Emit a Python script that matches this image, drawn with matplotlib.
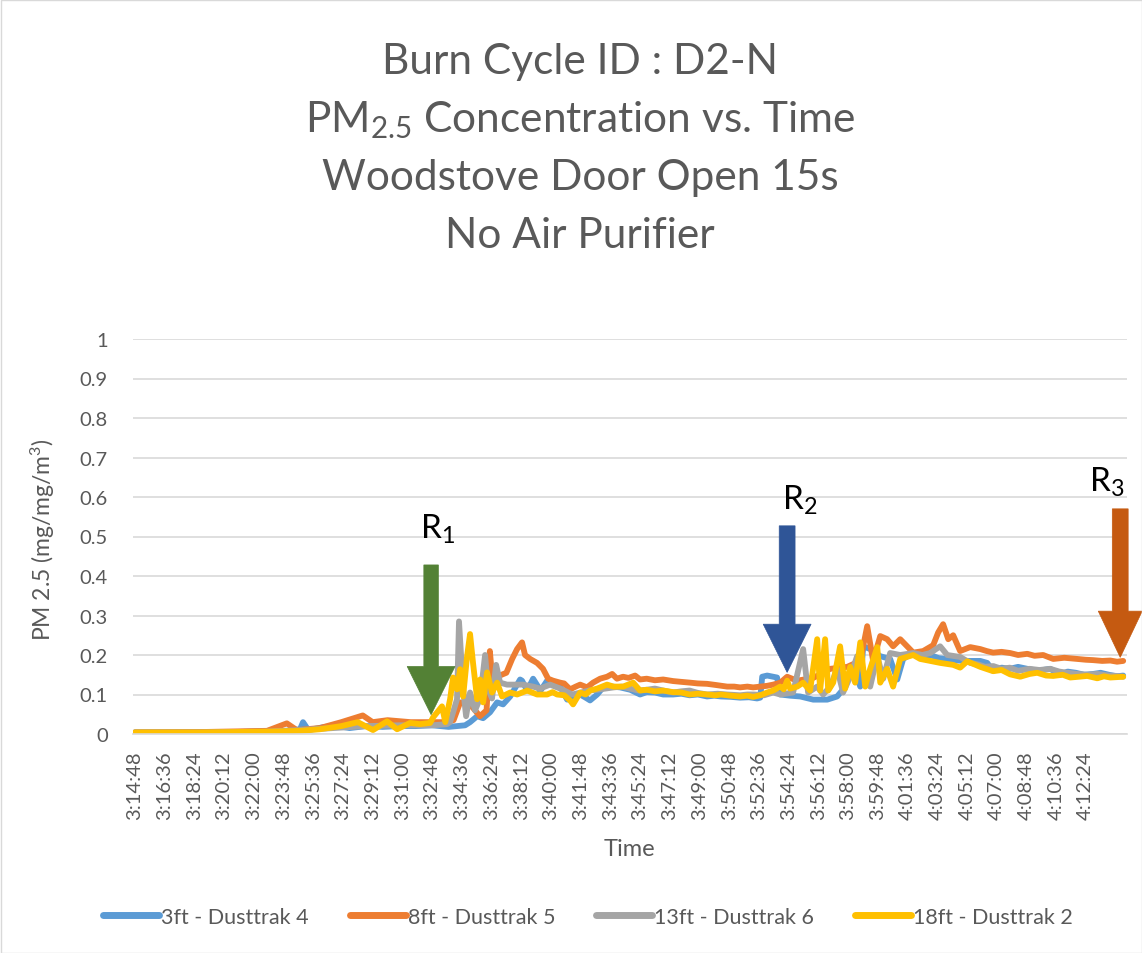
import matplotlib
matplotlib.use("Agg")
import matplotlib.pyplot as plt
from matplotlib.patches import Polygon, Rectangle

plt.rcParams['font.family'] = ['Lato', 'DejaVu Sans']
plt.rcParams['mathtext.fontset'] = 'custom'
plt.rcParams['mathtext.rm'] = 'Lato'
plt.rcParams['mathtext.it'] = 'Lato'
plt.rcParams['mathtext.default'] = 'regular'

# ---------------- data (minutes after 3:14:48, PM2.5 mg/m3) ----------------
t_blue = [0, 3, 6, 9.2, 10.0, 10.18, 10.5, 11.5, 12.3, 13, 14, 15, 16, 17, 18, 19, 20, 20.3,
          20.73, 21.09, 21.51, 21.94, 22.3, 22.73, 23.15, 23.33, 23.45, 23.76, 24.12, 24.42,
          24.54, 24.97, 25.33, 25.76, 26.18, 26.5, 26.97, 27.3, 27.57, 28.0, 28.36, 28.9,
          29.39, 30.0, 30.6, 31.0, 31.5, 32.0, 32.6, 33.1, 33.6, 34.1, 34.66, 35.1, 35.5,
          36.1, 36.66, 37.2, 37.69, 37.88, 38.0, 38.3, 38.66, 38.9, 39.09, 39.69, 40.3,
          41.09, 41.94, 42.54, 42.9, 43.21, 43.51, 43.94, 44.12, 44.54, 45.15, 45.75, 46.18,
          46.54, 47.15, 47.7, 48.18, 48.7, 49.21, 49.8, 50.42, 51.21, 51.63, 51.99, 52.5,
          53.0, 53.5, 54.06, 54.7, 55.45, 56.06, 56.5, 57.0, 57.5, 58.05, 58.5, 59.0, 59.5,
          59.87]
pm_blue = [0.004, 0.004, 0.005, 0.008, 0.012, 0.03, 0.01, 0.018, 0.02, 0.015, 0.02, 0.018,
           0.02, 0.02, 0.022, 0.018, 0.022, 0.03, 0.045, 0.04, 0.055, 0.08, 0.075, 0.095,
           0.125, 0.138, 0.135, 0.11, 0.14, 0.12, 0.108, 0.135, 0.133, 0.12, 0.087, 0.095,
           0.1, 0.092, 0.085, 0.1, 0.118, 0.12, 0.118, 0.112, 0.1, 0.106, 0.105, 0.1, 0.1,
           0.102, 0.098, 0.1, 0.095, 0.097, 0.095, 0.094, 0.092, 0.093, 0.09, 0.092, 0.145,
           0.148, 0.145, 0.143, 0.1, 0.097, 0.095, 0.087, 0.087, 0.095, 0.113, 0.146, 0.17,
           0.12, 0.222, 0.215, 0.197, 0.19, 0.138, 0.19, 0.206, 0.198, 0.2, 0.192, 0.19,
           0.186, 0.185, 0.185, 0.18, 0.16, 0.168, 0.165, 0.17, 0.165, 0.16, 0.165, 0.15,
           0.158, 0.155, 0.15, 0.152, 0.155, 0.15, 0.146, 0.148]

t_orange = [0, 4, 8, 9.2, 9.8, 11.2, 12.5, 13.8, 14.4, 15.3, 16.7, 17.9, 18.6, 19.3, 19.7,
            20.3, 20.9, 21.3, 21.5, 21.7, 22.1, 22.5, 22.85, 23.15, 23.45, 23.63, 23.94,
            24.36, 24.72, 25.03, 25.33, 25.76, 26.0, 26.36, 26.7, 26.97, 27.39, 27.75, 28.18,
            28.6, 28.91, 29.2, 29.57, 29.9, 30.3, 30.6, 31.0, 31.5, 32.0, 32.6, 33.1, 33.63,
            34.1, 34.66, 35.2, 35.88, 36.3, 36.66, 37.1, 37.45, 37.9, 38.3, 38.66, 39.1,
            39.51, 40.12, 41.09, 42.12, 43.15, 43.94, 44.36, 44.72, 45.15, 45.57, 45.93,
            46.36, 46.78, 47.15, 47.75, 48.36, 48.66, 48.96, 49.27, 49.57, 49.99, 50.6, 51.21,
            51.6, 51.99, 52.5, 53.02, 53.5, 54.06, 54.5, 55.02, 55.63, 56.3, 57.09, 57.6,
            58.05, 58.6, 59.09, 59.5, 59.87]
pm_orange = [0.004, 0.005, 0.008, 0.027, 0.01, 0.015, 0.03, 0.047, 0.03, 0.035, 0.03, 0.03,
             0.03, 0.035, 0.08, 0.075, 0.045, 0.06, 0.21, 0.115, 0.148, 0.155, 0.19, 0.215,
             0.232, 0.2, 0.19, 0.18, 0.165, 0.14, 0.135, 0.13, 0.128, 0.113, 0.12, 0.125,
             0.118, 0.13, 0.14, 0.145, 0.152, 0.14, 0.145, 0.142, 0.148, 0.138, 0.14, 0.136,
             0.138, 0.134, 0.132, 0.13, 0.128, 0.127, 0.124, 0.12, 0.12, 0.118, 0.12, 0.118,
             0.12, 0.122, 0.125, 0.13, 0.145, 0.135, 0.142, 0.165, 0.17, 0.185, 0.273, 0.185,
             0.248, 0.24, 0.222, 0.24, 0.222, 0.206, 0.21, 0.225, 0.257, 0.278, 0.24, 0.25,
             0.21, 0.22, 0.215, 0.21, 0.206, 0.208, 0.205, 0.2, 0.203, 0.198, 0.2, 0.19, 0.193,
             0.19, 0.188, 0.187, 0.185, 0.186, 0.183, 0.185]

t_gray = [0, 4, 8, 10, 12, 14, 16, 18, 18.9, 19.09, 19.51, 19.63, 19.88, 20.06, 20.3, 20.6,
          20.91, 21.21, 21.39, 21.63, 21.88, 22.12, 22.54, 22.91, 23.5, 24.12, 24.54, 25.15,
          25.76, 26.5, 27.0, 27.5, 28.0, 28.5, 29.0, 29.5, 30.0, 30.5, 31.0, 31.5, 32.0, 32.6,
          33.1, 33.6, 34.1, 34.66, 35.3, 35.88, 36.3, 36.66, 37.1, 37.5, 38.1, 38.66, 39.09,
          39.87, 40.48, 40.78, 41.33, 41.69, 42.12, 42.54, 42.9, 43.33, 43.75, 44.12, 44.54,
          44.97, 45.33, 45.75, 46.36, 47.15, 47.7, 48.18, 48.78, 49.21, 49.99, 50.6, 51.1,
          51.5, 52.0, 52.5, 53.0, 53.5, 54.2, 54.8, 55.45, 56.0, 56.5, 57.1, 57.7, 58.3, 59.0,
          59.5, 59.87]
pm_gray = [0.004, 0.004, 0.006, 0.01, 0.015, 0.02, 0.022, 0.022, 0.025, 0.03, 0.088, 0.285,
           0.113, 0.045, 0.105, 0.06, 0.09, 0.2, 0.115, 0.09, 0.175, 0.13, 0.125, 0.125,
           0.125, 0.12, 0.115, 0.125, 0.115, 0.1, 0.105, 0.11, 0.112, 0.115, 0.118, 0.12,
           0.115, 0.11, 0.112, 0.115, 0.11, 0.105, 0.108, 0.11, 0.104, 0.1, 0.102, 0.1,
           0.099, 0.098, 0.1, 0.1, 0.098, 0.105, 0.1, 0.105, 0.215, 0.105, 0.12, 0.1, 0.12,
           0.165, 0.105, 0.145, 0.197, 0.16, 0.12, 0.197, 0.14, 0.205, 0.2, 0.205, 0.2,
           0.205, 0.222, 0.2, 0.195, 0.18, 0.176, 0.17, 0.172, 0.165, 0.168, 0.16, 0.165,
           0.162, 0.165, 0.158, 0.155, 0.152, 0.15, 0.152, 0.148, 0.147, 0.145]

t_yellow = [0, 4, 8, 10, 11.2, 12.5, 13.5, 14.42, 15.27, 15.88, 16.67, 17.27, 17.88, 18.06,
            18.6, 18.8, 19.09, 19.27, 19.51, 19.7, 19.88, 20.12, 20.3, 20.48, 20.73, 20.91,
            21.09, 21.33, 21.63, 21.94, 22.24, 22.73, 23.15, 23.76, 24.36, 24.97, 25.3, 25.57,
            26.0, 26.36, 26.54, 26.97, 27.3, 27.57, 28.0, 28.6, 29.0, 29.57, 30.18, 30.6, 31.0,
            31.5, 32.0, 32.6, 33.1, 33.6, 34.1, 34.66, 35.2, 35.5, 36.1, 36.66, 37.1, 37.45,
            37.88, 38.3, 38.66, 39.09, 39.3, 39.51, 39.69, 40.12, 40.48, 40.9, 41.33, 41.51,
            41.81, 42.0, 42.3, 42.72, 43.02, 43.33, 43.63, 43.94, 44.24, 44.54, 44.97, 45.15,
            45.57, 45.93, 46.36, 47.15, 47.57, 48.18, 48.78, 49.57, 49.99, 50.42, 51.21,
            51.99, 52.5, 53.02, 53.63, 54.2, 54.66, 55.2, 55.63, 56.2, 56.66, 57.2, 57.69,
            58.3, 58.7, 59.09, 59.5, 59.87]
pm_yellow = [0.004, 0.004, 0.006, 0.008, 0.012, 0.02, 0.03, 0.01, 0.032, 0.012, 0.028, 0.025,
             0.028, 0.042, 0.07, 0.03, 0.088, 0.143, 0.113, 0.164, 0.095, 0.197, 0.253, 0.18,
             0.088, 0.138, 0.08, 0.156, 0.105, 0.13, 0.095, 0.105, 0.1, 0.11, 0.1, 0.1, 0.106,
             0.1, 0.098, 0.085, 0.075, 0.105, 0.1, 0.11, 0.115, 0.125, 0.12, 0.12, 0.13, 0.11,
             0.112, 0.108, 0.11, 0.106, 0.105, 0.1, 0.102, 0.1, 0.098, 0.1, 0.097, 0.095,
             0.097, 0.094, 0.098, 0.105, 0.11, 0.12, 0.113, 0.135, 0.115, 0.12, 0.13, 0.11,
             0.24, 0.11, 0.24, 0.11, 0.13, 0.222, 0.115, 0.17, 0.13, 0.232, 0.12, 0.165, 0.22,
             0.13, 0.165, 0.12, 0.19, 0.2, 0.19, 0.185, 0.18, 0.175, 0.168, 0.184, 0.17,
             0.159, 0.162, 0.151, 0.145, 0.152, 0.155, 0.148, 0.147, 0.15, 0.143, 0.145, 0.147,
             0.141, 0.146, 0.143, 0.144, 0.145]

series_names = ["3ft - Dusttrak 4", "8ft - Dusttrak 5", "13ft - Dusttrak 6", "18ft - Dusttrak 2"]
tick_labels = ["3:14:48", "3:16:36", "3:18:24", "3:20:12", "3:22:00", "3:23:48", "3:25:36",
               "3:27:24", "3:29:12", "3:31:00", "3:32:48", "3:34:36", "3:36:24", "3:38:12",
               "3:40:00", "3:41:48", "3:43:36", "3:45:24", "3:47:12", "3:49:00", "3:50:48",
               "3:52:36", "3:54:24", "3:56:12", "3:58:00", "3:59:48", "4:01:36", "4:03:24",
               "4:05:12", "4:07:00", "4:08:48", "4:10:36", "4:12:24"]
tick_step_min = 1.8

# ---------------- figure ----------------
W, H = 1142, 954
fig = plt.figure(figsize=(W / 100, H / 100), dpi=100)
ax = fig.add_axes([133 / W, 1 - 735 / H, (1127 - 133) / W, (735 - 340) / H])

colors = ["#5B9BD5", "#ED7D31", "#A5A5A5", "#FFC000"]
for (t, v), c, name in zip([(t_blue, pm_blue), (t_orange, pm_orange), (t_gray, pm_gray),
                             (t_yellow, pm_yellow)], colors, series_names):
    ax.plot(t, v, color=c, lw=4.2, label=name, solid_joinstyle='round', solid_capstyle='round')

ax.set_xlim(-0.12, 60.1)
ax.set_ylim(0, 1)
ax.set_yticks([i / 10 for i in range(11)])
ax.set_yticklabels(["0"] + [f"{i/10:.1f}" for i in range(1, 10)] + ["1"])
ax.set_xticks([i * tick_step_min for i in range(len(tick_labels))])
ax.set_xticklabels(tick_labels, rotation=90)
ax.tick_params(axis='both', length=0, labelsize=14.5, colors="#595959")
ax.tick_params(axis='y', pad=18)
ax.tick_params(axis='x', pad=12)
ax.grid(axis='y', color="#D9D9D9", lw=1.2)
ax.set_axisbelow(True)
for s in ["top", "right", "left"]:
    ax.spines[s].set_visible(False)
ax.spines["bottom"].set_color("#D9D9D9")
ax.spines["bottom"].set_linewidth(1.2)

# arrows (data coords: minutes, value)
def arrow(xc, tip_y, base_y, top_y, head_hw, shaft_hw, color):
    pts = [(xc - shaft_hw, top_y), (xc + shaft_hw, top_y), (xc + shaft_hw, base_y),
           (xc + head_hw, base_y), (xc, tip_y), (xc - head_hw, base_y), (xc - shaft_hw, base_y)]
    ax.add_patch(Polygon(pts, closed=True, facecolor=color, edgecolor=color, lw=0.5,
                         clip_on=False, zorder=5))

arrow(17.94, 0.049, 0.171, 0.428, 1.45, 0.44, "#538135")
arrow(39.51, 0.156, 0.278, 0.527, 1.45, 0.48, "#2F5597")
arrow(59.69, 0.194, 0.311, 0.57, 1.33, 0.48, "#C55A11")

ax.text(18.3, 0.52, "R$_1$", fontsize=24, ha='center', va='center', color="black")
ax.text(40.3, 0.595, "R$_2$", fontsize=24, ha='center', va='center', color="black")
ax.text(58.9, 0.64, "R$_3$", fontsize=24, ha='center', va='center', color="black")

# titles & labels
title_lines = ["Burn Cycle ID : D2-N", "PM$_{2.5}$ Concentration vs. Time",
               "Woodstove Door Open 15s", "No Air Purifier"]
for i, line in enumerate(title_lines):
    fig.text(580 / W, 1 - (62 + i * 58) / H, line, fontsize=30.5, color="#595959",
             ha='center', va='center')

fig.text(629 / W, 1 - 850 / H, "Time", fontsize=17, color="#595959", ha='center', va='center')
fig.text(43 / W, 1 - 540 / H, "PM 2.5 (mg/mg/m$^3$)", fontsize=16.5, color="#595959",
         ha='center', va='center', rotation=90)

leg = fig.legend(loc='center', bbox_to_anchor=(588 / W, 1 - 918 / H), ncol=4, frameon=False,
                 fontsize=15.5, handlelength=2.6, handletextpad=0.1, columnspacing=1.9)
for txt in leg.get_texts():
    txt.set_color("#595959")
for h in leg.legend_handles:
    h.set_linewidth(5)

fig.patches.append(Rectangle((0.5 / W, 0.5 / H), 1 - 1 / W, 1 - 1 / H, transform=fig.transFigure,
                             fill=False, edgecolor="#D9D9D9", lw=1))

fig.savefig("out.png", dpi=100, facecolor="white")
